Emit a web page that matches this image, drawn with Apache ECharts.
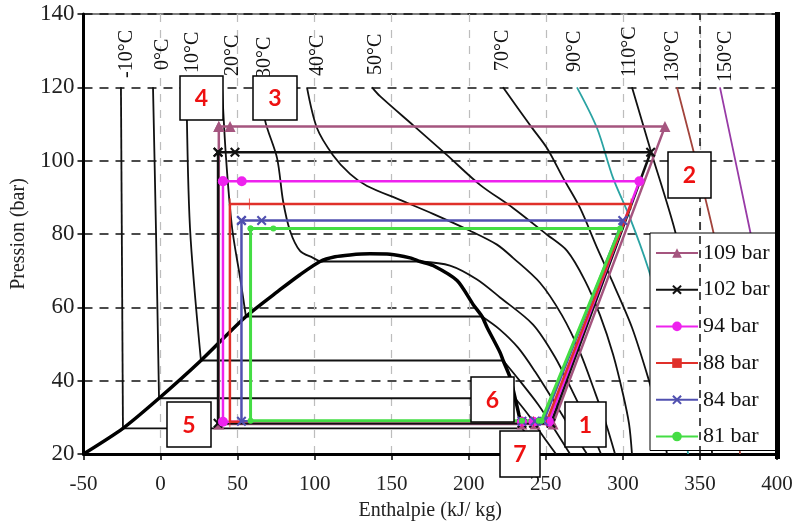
<!DOCTYPE html>
<html><head><meta charset="utf-8">
<script src="https://cdn.jsdelivr.net/npm/echarts@6/dist/echarts.min.js"></script>
<style>html,body{margin:0;padding:0;background:#fff}#c{width:800px;height:526px}</style>
</head><body><div id="c"></div>
<script>
// ---- axis ticks ----
const xTicks = [-50, 0, 50, 100, 150, 200, 250, 300, 350, 400];
const yTicks = [20, 40, 60, 80, 100, 120, 140];

// ---- saturation dome (h kJ/kg, P bar) ----
const domeCurve = [[-50,20],[-24.4,27],[-1,35.2],[26.2,45.5],[55.4,57.5],[77.5,64.8],[90.5,68.9],[103.5,72.5],[113.2,73.8],[122.9,74.3],[135.9,74.6],[148.9,74.5],[161.9,73.5],[168.4,72.5],[176.8,71.4],[192.4,67.3],[202.8,60.8],[208.6,57.5],[211.9,54.5],[220.3,47.7],[222.3,45.5],[226.8,40.9],[230.1,35.2],[232.6,30.6],[234.6,27]];

// ---- sub-critical isotherms ----
const satLabels = ['-10°C','0°C','10°C','20°C','30°C'];
const satPressure = [27, 35.2, 45.5, 57.5, 72.5];
const liquidBranch = [
  [[-25.7,120],[-24.4,27]],
  [[-4.9,120],[-3,81.7],[-1,35.2]],
  [[16.8,120],[19.1,81.7],[26.2,45.5]],
  [[39.9,120],[42.5,100.7],[46.4,81.7],[51.6,68.1],[55.4,57.5]],
  [[65.8,120],[67.8,111],[75.6,100.7],[79.5,89],[84,80.9],[90.5,75.4],[98.9,73.5],[103.5,72.5]]
];
const vapourBranch = [
  [[234.6,27],[240.5,23.5],[246.2,20]],
  [[230.1,35.2],[239,30.5],[248,25],[256.6,20]],
  [[222.3,45.5],[233,40],[245,33.5],[256,26.5],[265.7,20]],
  [[208.6,57.5],[220,54],[232,49],[243,42.5],[255,34.5],[266,27],[276.7,20]],
  [[168.4,72.5],[187.8,71.4],[205.4,67.6],[220.3,62.7],[241.7,55.3],[256,46.4],[267.6,36.8],[277.4,28.2],[285.8,20]]
];

// ---- super-critical isotherms ----
const superLabels = ['40°C','50°C','70°C','90°C','110°C','130°C','150°C'];
const superBranch = [
  [[95,120],[101.5,108.9],[111.9,101.5],[122.9,96.4],[134,93.1],[155.4,89.3],[176.8,85.5],[200.8,80.9],[218.3,77.1],[228.7,73.5],[246.2,66.7],[260.5,57.8],[272.2,47.7],[281.9,36.8],[289.1,28.2],[294.9,20]],
  [[137.2,120],[142.4,117.6],[163.8,109.7],[185.9,101.5],[207.3,93.4],[228.7,87.1],[250.8,79.8],[263.8,75.4],[275.4,67.3],[285.2,57.8],[293.6,47.2],[300.1,36.3],[304,28.2],[305.9,20]],
  [[222.2,120],[239.7,109.7],[250.8,103.4],[261.2,95.3],[272.2,87.1],[283.2,76.3],[294.9,65.4],[305.9,54.5],[316.3,40.9],[325.4,27.3],[328.6,20]],
  [[270.2,120],[283.2,108.9],[293.6,95.3],[304.6,84.4],[316.3,70.8],[327.4,54.5],[337.1,35.5],[342.3,20]],
  [[305.9,120],[317.6,103.4],[333.8,80.9],[343.6,62.7],[353.3,40.9],[357.9,20]],
  [[335.1,120],[358.5,80.9],[369.5,57.2],[376,20]],
  [[363,120],[382.5,80.9],[395.5,54.5],[400,38]]
];

// ---- transcritical cycles ----
const cycleNames = ['109 bar','102 bar','94 bar','88 bar','84 bar','81 bar'];
const pHigh = [109.3, 102.3, 94.4, 88.2, 83.7, 81.5];
const pLow  = [28.2, 28.4, 28.8, 28.8, 28.9, 29.1];
const h1 = [254.7, 253.3, 252, 250.5, 248.5, 247.2];
const h2 = [327.3, 318, 310.7, 305.3, 299.9, 298.2];
const h3 = [45.1, 48.3, 52.7, 57.6, 65.6, 73.2];
const h4 = [37.8, 37.3, 40.5, 45.0, 52.5, 58.4];
const h6 = [234.5, 234.5, 234.5, 234.5, 234.5, 234.5];
const h7 = [243, 242, 242, 242, 243, 245.5];

// ---- annotation texts ----
const isoTopLabels = ['-10°C','0°C','10°C','20°C','30°C','40°C','50°C','70°C','90°C','110°C','130°C','150°C'];
const pointLabels = ['1','2','3','4','5','6','7'];

// ================= styling / layout =================
const SERIF = '"Liberation Serif","DejaVu Serif",serif';
const isoTopPos = [[127,78],[163,70],[193,73],[233,76],[265,78],[318,76],[376,75],[503,71],[575,72],[630,77],[673,82],[726,82]];
const boxPos = [[565,402,41,45],[668,152,43,46],[253,76,44,44],[180,76,43,44],[167,402,44,45],[471,377,43,45],[500,431,40,46]];
const superColors = ['#111','#111','#111','#2aa3a3','#111','#a2433b','#983aa6'];
const cycleColors = ['#a5557f','#111111','#ee22ee','#e0302a','#5050b0','#44dd44'];
const X_PATH = 'path://M0,1.5L1.5,0L5,3.5L8.5,0L10,1.5L6.5,5L10,8.5L8.5,10L5,6.5L1.5,10L0,8.5L3.5,5Z';
const XSQ_PATH = 'path://M0,1.5L1.5,0L5,3.5L8.5,0L10,1.5L6.5,5L10,8.5L8.5,10L5,6.5L1.5,10L0,8.5L3.5,5Z M3,3L7,3L7,7L3,7Z';
const cycleSymbols = ['triangle', XSQ_PATH, 'circle', 'path://M0,0L3,0L3,12L0,12Z', X_PATH, 'circle'];
const cycleSymbolSize = [11, 10, 10, [3,11], 10, 6];
const cycleWidth = [2.5, 2.5, 2.5, 2.5, 2.5, 3];

const series = [];
const thin = {color:'#111', width:1.8};
// dome
series.push({type:'line', data: domeCurve, smooth:0.25, showSymbol:false, silent:true, z:3,
  lineStyle:{color:'#000', width:3.5},
  markLine:{silent:true, symbol:'none', label:{show:false}, lineStyle:{color:'#111', type:[8,6], width:1.5},
    data:[{xAxis:350}]}});
// sub-critical isotherms
satLabels.forEach((t,i)=>{
  series.push({type:'line', data: liquidBranch[i], smooth:0.3, showSymbol:false, silent:true, z:2, lineStyle:thin});
  const L = liquidBranch[i][liquidBranch[i].length-1], V = vapourBranch[i][0];
  series.push({type:'line', data: [[L[0], satPressure[i]], [V[0], satPressure[i]]], showSymbol:false, silent:true, z:2, lineStyle:thin});
  series.push({type:'line', data: vapourBranch[i], smooth:0.3, showSymbol:false, silent:true, z:2, lineStyle:thin});
});
// super-critical isotherms
superLabels.forEach((t,i)=>{
  series.push({type:'line', data: superBranch[i], smooth:0.3, showSymbol:false, silent:true, z:2, lineStyle:{color:superColors[i], width:1.8}});
});
// cycles
cycleNames.forEach((n,i)=>{
  const d = [[h4[i],pHigh[i]],[h4[i],pLow[i]],[h6[i],pLow[i]],[h7[i],pLow[i]],[h1[i],pLow[i]],[h2[i],pHigh[i]],[h3[i],pHigh[i]],[h4[i],pHigh[i]]];
  series.push({name:n, type:'line', data:d, z:5, symbol: cycleSymbols[i], symbolSize: cycleSymbolSize[i], symbolKeepAspect:true, showSymbol:true,
    itemStyle:{color: cycleColors[i]}, lineStyle:{color:cycleColors[i], width:cycleWidth[i]}});
});

const graphics = [];
isoTopLabels.forEach((t,i)=>{
  graphics.push({type:'text', x: isoTopPos[i][0], y: isoTopPos[i][1], rotation: Math.PI/2, z:100,
    style:{text:t, font:'20px '+SERIF, fill:'#111', align:'left', verticalAlign:'middle'}});
});
pointLabels.forEach((t,i)=>{
  const b = boxPos[i];
  graphics.push({type:'rect', z:100, shape:{x:b[0], y:b[1], width:b[2], height:b[3]}, style:{fill:'#fff', stroke:'#000', lineWidth:1.5}});
  graphics.push({type:'text', z:101, x:b[0]+b[2]/2, y:b[1]+b[3]/2+1, style:{text:t, fill:'#ee1111', font:'bold 23px Lato, "Open Sans", sans-serif', align:'center', verticalAlign:'middle'}});
});
graphics.push({type:'rect', z:99, shape:{x:780, y:220, width:20, height:236}, style:{fill:'#fff'}});
graphics.push({type:'rect', z:102, shape:{x:775, y:12, width:5, height:447}, style:{fill:'#000'}});

const chart = echarts.init(document.getElementById('c'), null, {renderer:'canvas'});
chart.setOption({
  animation:false,
  backgroundColor:'#fff',
  grid:{left:83.5, right:23, top:14, bottom:69, show:true, borderColor:'#000', borderWidth:1.2, backgroundColor:'transparent'},
  xAxis:{type:'value', min:xTicks[0], max:xTicks[xTicks.length-1], interval:xTicks[1]-xTicks[0],
    axisLine:{show:true, onZero:false, lineStyle:{color:'#000', width:3}},
    axisTick:{show:true, length:6, lineStyle:{color:'#000', width:1.5}},
    axisLabel:{fontFamily:SERIF, fontSize:21, color:'#222', margin:20},
    splitLine:{show:true, lineStyle:{color:'#bdbdbd', type:[8,8], width:1.2}},
    name:'Enthalpie (kJ/ kg)', nameLocation:'middle', nameGap:47,
    nameTextStyle:{fontFamily:SERIF, fontSize:20, color:'#222'}},
  yAxis:{type:'value', min:yTicks[0], max:yTicks[yTicks.length-1], interval:yTicks[1]-yTicks[0],
    axisLine:{show:true, onZero:false, lineStyle:{color:'#000', width:3}},
    axisTick:{show:true, length:6, lineStyle:{color:'#000', width:1.5}},
    axisLabel:{fontFamily:SERIF, fontSize:23, color:'#222', margin:9},
    splitLine:{show:true, lineStyle:{color:'#111', type:[9,7], width:1.6}},
    name:'Pression (bar)', nameLocation:'middle', nameGap:55,
    nameTextStyle:{fontFamily:SERIF, fontSize:20, color:'#222'}},
  legend:{data:cycleNames, orient:'vertical', left:650, top:233, backgroundColor:'#fff', borderColor:'#000', borderWidth:1,
    padding:[9,40,3,5], itemWidth:42, itemHeight:12, itemGap:14.7,
    textStyle:{fontFamily:SERIF, fontSize:22, lineHeight:22, color:'#111'}},
  graphic: graphics,
  series: series
});
</script></body></html>
